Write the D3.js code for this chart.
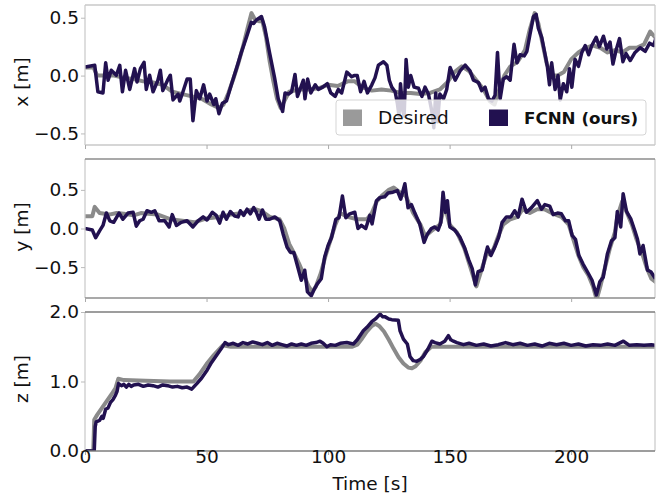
<!DOCTYPE html>
<html><head><meta charset="utf-8">
<script src="https://cdn.jsdelivr.net/npm/d3@7"></script>
<style>
body{margin:0;background:#fff;}
svg{display:block;font-family:"DejaVu Sans",sans-serif;}
</style></head>
<body><svg id="c" width="667" height="497"></svg>
<script>
// ---------------- data ----------------
const seriesNames = ["Desired", "FCNN (ours)"];
const xTicks = [0, 50, 100, 150, 200];
const posTicks = [-0.5, 0.0, 0.5];
const zTicks = [0.0, 1.0, 2.0];
const panelLabels = ["x [m]", "y [m]", "z [m]"];

const xDesired = [[0,0.07],[3.5,0.07],[5,0.0],[8,0.0],[12,0.0],[16,-0.02],[20,-0.03],[24,-0.05],[28,-0.06],[32,-0.08],[36,-0.14],[40,-0.16],[44,-0.18],[48,-0.2],[52,-0.25],[55,-0.28],[57,-0.25],[59,-0.15],[61,-0.03],[63,0.1],[65,0.25],[67,0.42],[68.5,0.54],[70,0.48],[71.5,0.47],[73,0.47],[74.5,0.33],[76,0.12],[77.5,-0.05],[79,-0.2],[80.5,-0.28],[82,-0.22],[84,-0.14],[88,-0.12],[92,-0.12],[96,-0.11],[100,-0.08],[104,-0.09],[108,-0.05],[111,-0.05],[114,-0.1],[118,-0.13],[122,-0.12],[126,-0.13],[130,-0.15],[134,-0.15],[138,-0.16],[142,-0.15],[146,-0.12],[149,-0.06],[152,0.03],[155,0.08],[158,0.04],[161,-0.04],[164,-0.12],[166.5,-0.22],[168.5,-0.25],[170.5,-0.12],[172.5,0.0],[175,0.08],[178,0.12],[181,0.22],[183,0.4],[185,0.54],[186.5,0.45],[188,0.3],[190,0.1],[192,0.0],[194.5,0.0],[197,0.03],[200,0.14],[203,0.2],[206,0.24],[209,0.26],[212,0.24],[215,0.2],[218,0.22],[221,0.2],[224,0.24],[227,0.24],[230,0.27],[232.5,0.38],[235,0.32]];

const xFcnn = [[0,0.075],[4,0.089],[5.3,-0.14],[7.4,-0.15],[8.5,0.11],[9.5,-0.04],[10.8,0.046],[12.9,0.003],[14.3,0.089],[15.4,-0.14],[16.7,0.046],[18.4,-0.12],[20.4,0.06],[21.4,-0.055],[22.8,0.06],[24.3,0.115],[25.2,-0.12],[26.6,0.003],[28,-0.14],[30,-0.04],[31,0.046],[32,-0.13],[34.2,-0.03],[35.1,0.003],[36.2,-0.21],[38.3,-0.16],[39,-0.22],[40.3,-0.14],[42,-0.03],[43.3,-0.03],[44.4,-0.39],[45.8,-0.13],[47.2,-0.2],[48.8,-0.08],[50.2,-0.22],[51.3,-0.16],[53,-0.25],[53.8,-0.2],[55.1,-0.33],[56.5,-0.24],[58.2,-0.22],[60.2,-0.08],[62.3,0.06],[64.3,0.2],[66.4,0.33],[68.4,0.46],[69.4,0.45],[70.5,0.48],[72.6,0.51],[73.9,0.42],[76,0.19],[78,-0.02],[79.5,-0.2],[81.3,-0.31],[82.3,-0.15],[83.7,-0.16],[85,-0.14],[86.4,0.01],[87.4,-0.18],[88.8,-0.1],[89.8,-0.04],[90.5,-0.2],[91.6,-0.03],[92.9,-0.15],[94.7,-0.08],[96,-0.12],[97.8,-0.1],[99.7,-0.07],[101.1,-0.15],[102.9,-0.18],[104.2,-0.12],[105.6,-0.15],[107.7,0.03],[109.7,-0.01],[110.7,0.0],[112,0.0],[113.4,-0.14],[114.8,-0.05],[116.2,-0.15],[118,-0.08],[119.3,-0.02],[120.7,0.09],[122.8,0.12],[124.2,0.09],[125.2,-0.04],[126.2,-0.1],[127.6,-0.14],[128.5,-0.24],[129.2,-0.35],[129.8,-0.07],[130.7,-0.3],[131.3,-0.35],[132.1,0.14],[133,-0.1],[134,0.0],[135.4,-0.1],[137.2,-0.11],[138.6,-0.18],[139.9,-0.1],[141.3,-0.16],[142.7,-0.31],[143.5,-0.45],[144.3,-0.15],[145,-0.4],[146,-0.16],[147.5,-0.2],[148.8,-0.12],[150.2,0.07],[152.3,-0.04],[154.3,0.04],[156.4,0.09],[158.4,0.04],[159.8,-0.04],[161.9,-0.06],[163.2,-0.13],[164.6,-0.1],[166,-0.2],[167.4,-0.22],[168.7,-0.17],[169.7,0.2],[170.8,-0.2],[172.1,-0.03],[173.5,-0.01],[174.9,-0.04],[176.5,0.27],[177.7,0.11],[179,0.18],[180.7,0.17],[181.8,0.21],[183.1,0.36],[184.5,0.51],[185.6,0.53],[186.5,0.41],[187.9,0.33],[189.3,0.18],[190.2,0.08],[191.1,-0.08],[192,0.11],[193.4,-0.12],[194.6,0.0],[195.5,-0.21],[196.8,-0.07],[198.2,-0.14],[199.3,0.06],[200.3,-0.1],[201.6,0.14],[203,0.08],[204.4,0.2],[205.8,0.26],[207.2,0.18],[208.5,0.26],[210.3,0.33],[211.6,0.25],[213.3,0.34],[214.7,0.23],[216,0.29],[217.2,0.1],[218.5,0.22],[219.9,0.32],[221.3,0.12],[222.6,0.19],[224.3,0.13],[226.3,0.2],[228.4,0.24],[230.5,0.21],[232.3,0.28],[233.9,0.26],[235,0.33]];

const yDesired = [[0,0.16],[3,0.16],[4,0.28],[6,0.2],[10,0.18],[13,0.2],[16,0.19],[20,0.17],[23,0.2],[26,0.19],[30,0.18],[35,0.12],[40,0.1],[45,0.08],[50,0.13],[55,0.15],[60,0.18],[65,0.2],[68,0.24],[70,0.25],[73,0.22],[76,0.15],[80,0.12],[82,0.0],[84,-0.2],[86,-0.32],[88,-0.45],[90,-0.6],[92,-0.75],[93.5,-0.82],[95,-0.75],[97,-0.58],[99,-0.35],[101,-0.15],[103,0.05],[105,0.2],[108,0.15],[112,0.12],[116,0.12],[118,0.2],[120,0.35],[122,0.42],[125,0.5],[127,0.53],[129,0.48],[132,0.42],[135,0.2],[138,0.05],[140,-0.1],[143,-0.02],[146,0.05],[148,0.3],[150,0.05],[153,-0.05],[156,-0.25],[158,-0.45],[160,-0.65],[161,-0.75],[163,-0.55],[165,-0.35],[168,-0.27],[170,-0.1],[172,0.05],[175,0.12],[178,0.15],[180,0.25],[183,0.2],[186,0.25],[189,0.25],[192,0.2],[196,0.15],[199,0.05],[201,-0.15],[203,-0.35],[205,-0.5],[207,-0.6],[209,-0.75],[210.5,-0.92],[212,-0.75],[214,-0.5],[216,-0.25],[218,-0.05],[219,0.15],[221,0.35],[223,0.2],[225,0.05],[227,-0.15],[229,-0.3],[231,-0.5],[233,-0.65],[235,-0.7]];

const yFcnn = [[0,0.0],[3,-0.02],[4.4,-0.12],[6,-0.03],[7.4,0.04],[8.8,0.2],[10.2,0.1],[11.8,0.08],[14,0.2],[15.6,0.12],[17.7,0.2],[19.8,0.21],[21.1,0.03],[22.5,0.1],[23.9,0.12],[25.5,0.23],[27.3,0.21],[28.7,0.23],[30.5,0.1],[32.8,0.1],[34.6,0.02],[35.9,0.18],[37.6,0.04],[39.6,0.08],[42,0.1],[44.4,0.02],[46.5,0.1],[48.6,0.15],[50.2,0.11],[52.4,0.21],[54,0.17],[55.4,0.07],[56.8,0.21],[58.2,0.12],[59.8,0.22],[61.6,0.16],[63,0.15],[63.9,0.23],[65.3,0.17],[66.7,0.25],[68,0.19],[69.4,0.27],[70.5,0.21],[71.6,0.12],[73,0.24],[74.4,0.12],[76,0.12],[78.1,0.15],[80.1,0.1],[81.5,-0.07],[83.1,-0.24],[84.5,-0.31],[85.9,-0.31],[87.2,-0.46],[89,-0.67],[90.4,-0.54],[91.5,-0.82],[93.1,-0.87],[94.1,-0.8],[95.5,-0.72],[97.2,-0.65],[98.6,-0.37],[100,-0.22],[101.4,-0.12],[103.2,0.12],[104.5,0.14],[105.9,0.42],[107.3,0.14],[108.9,0.19],[111,0.21],[112.3,0.0],[113.7,0.04],[115.5,0.0],[117.2,0.17],[118.1,0.06],[119.9,0.36],[121.3,0.4],[123.3,0.41],[124.7,0.46],[126.7,0.47],[128.5,0.49],[129.9,0.38],[131.6,0.58],[132.9,0.27],[134.3,0.31],[135.7,0.2],[137.7,0.06],[139.5,-0.18],[140.9,-0.07],[142.5,0.0],[143.9,0.02],[145.3,-0.02],[146.4,0.08],[147.3,0.47],[148.3,0.21],[149.1,0.36],[150.1,0.02],[152.1,-0.02],[154.2,-0.11],[156.3,-0.26],[157.9,-0.41],[159.3,-0.52],[160.6,-0.73],[161.7,-0.56],[163.4,-0.54],[164.7,-0.35],[165.6,-0.24],[167,-0.35],[168.6,-0.24],[170.2,-0.11],[171.6,0.08],[173.4,0.15],[175.2,0.15],[176.8,0.23],[178.2,0.15],[179.8,0.38],[181.6,0.21],[183.7,0.27],[186.1,0.36],[187.8,0.25],[189.2,0.31],[191.2,0.29],[192.6,0.18],[194.4,0.2],[196,0.19],[197.7,0.1],[199,0.1],[200.4,-0.09],[201.8,-0.14],[203.2,-0.35],[204.9,-0.46],[206.7,-0.56],[208.6,-0.67],[210.4,-0.86],[211.8,-0.69],[213.2,-0.63],[214.9,-0.33],[216.6,-0.16],[218,-0.12],[219,0.22],[220.4,0.02],[221.4,0.45],[222.8,0.22],[224.6,0.12],[226.2,-0.03],[227.3,-0.14],[228.3,-0.33],[229.6,-0.22],[231.4,-0.54],[232.8,-0.56],[234.7,-0.65]];

const zDesired = [[0,0],[3.4,0],[3.8,0.45],[5,0.52],[7,0.62],[9,0.72],[11,0.82],[12.5,0.9],[13.7,1.04],[16,1.02],[25,1.01],[35,1.0],[44.6,1.0],[47,1.1],[50,1.25],[53,1.38],[56.7,1.52],[60,1.5],[80,1.5],[100,1.5],[110,1.5],[112,1.53],[114,1.62],[116,1.72],[118,1.8],[119.5,1.83],[121,1.8],[123,1.72],[125,1.6],[127,1.47],[129,1.35],[131,1.26],[133,1.2],[134.5,1.19],[136,1.22],[138,1.3],[140,1.42],[142.5,1.5],[150,1.5],[235,1.5]];

const zFcnn = [[0,0],[3.8,0],[4.2,0.35],[4.6,0.42],[6,0.44],[7,0.5],[7.5,0.47],[8.5,0.6],[9.5,0.62],[10.5,0.7],[11.5,0.74],[12.5,0.8],[13.2,0.86],[13.8,0.97],[15,0.94],[16,0.96],[17,0.92],[18,0.96],[19,0.93],[20,0.95],[22,0.96],[24,0.93],[26,0.95],[28,0.94],[30,0.92],[32,0.95],[34,0.94],[36,0.92],[38,0.93],[40,0.91],[42,0.92],[43.9,0.89],[46,0.97],[48,1.05],[50,1.15],[52,1.27],[54,1.37],[56,1.47],[57.6,1.56],[59,1.53],[61,1.55],[63,1.52],[65,1.56],[67,1.54],[69,1.57],[71,1.55],[73,1.53],[75,1.56],[77,1.52],[79,1.55],[81,1.53],[83,1.51],[85,1.54],[87,1.52],[89,1.54],[91,1.52],[93,1.55],[95,1.56],[96.7,1.58],[98,1.55],[99.5,1.5],[101,1.53],[103,1.52],[105,1.55],[107.7,1.56],[110.4,1.54],[112,1.6],[114.5,1.73],[116,1.78],[118,1.86],[119.5,1.9],[121.4,1.97],[122.5,1.93],[123.5,1.93],[125,1.9],[126.2,1.89],[128.9,1.88],[129.6,1.73],[131,1.61],[132.6,1.54],[133.7,1.36],[135,1.3],[136.5,1.29],[138,1.32],[139.2,1.36],[141,1.46],[142.7,1.58],[144,1.56],[146,1.54],[148,1.58],[149.5,1.66],[150.5,1.6],[151.6,1.58],[153,1.56],[155.7,1.53],[158,1.55],[161,1.52],[164,1.54],[167,1.51],[170,1.53],[173,1.56],[176,1.53],[179,1.55],[182,1.52],[185,1.54],[188,1.51],[191,1.55],[194,1.53],[197,1.55],[200,1.52],[203,1.54],[206,1.51],[209,1.53],[212,1.52],[215,1.54],[218,1.52],[221.5,1.58],[224,1.52],[227,1.53],[230,1.52],[233,1.53],[235,1.52]];

// ---------------- layout ----------------
const left = 85, right = 655;
const panels = [
  {top: 5,   bottom: 145, domain: [-0.6, 0.61], ticks: posTicks, label: panelLabels[0], labelY: 82, data: [xDesired, xFcnn], hColor: "#c8c8c8"},
  {top: 159, bottom: 298, domain: [-0.9, 0.9], ticks: posTicks, label: panelLabels[1], labelY: 227, data: [yDesired, yFcnn], hColor: "#8c8c8c"},
  {top: 312, bottom: 451, domain: [0, 2.0], ticks: zTicks, label: panelLabels[2], labelY: 379, data: [zDesired, zFcnn], hColor: "#7c7c7c"}
];
const colors = ["#8a8a8a", "#221150"];
const widths = [4.0, 3.5];
const fontSize = 18.5;

const svg = d3.select("#c");
const x = d3.scaleLinear().domain([0, 234.5]).range([left, right]);
const fmt = d3.format(".1f");

panels.forEach((p, i) => {
  const y = d3.scaleLinear().domain(p.domain).range([p.bottom, p.top]);
  const g = svg.append("g");
  const cid = "clip" + i;
  svg.append("clipPath").attr("id", cid).append("rect")
    .attr("x", left).attr("y", p.top).attr("width", right - left).attr("height", p.bottom - p.top);

  const line = d3.line().x(d => x(d[0])).y(d => y(d[1])).curve(d3.curveLinear);
  p.data.forEach((ser, k) => {
    g.append("path").attr("d", line(ser)).attr("fill", "none")
      .attr("stroke", colors[k]).attr("stroke-width", widths[k])
      .attr("stroke-linejoin", "round").attr("stroke-linecap", "butt")
      .attr("clip-path", `url(#${cid})`);
  });

  // frame: vertical spines light, horizontal spines per panel
  [left, right].forEach(xx => g.append("line").attr("x1", xx).attr("x2", xx)
    .attr("y1", p.top).attr("y2", p.bottom).attr("stroke", "#cccccc").attr("stroke-width", 1.3));
  [p.top, p.bottom].forEach(yy => g.append("line").attr("x1", left).attr("x2", right)
    .attr("y1", yy).attr("y2", yy).attr("stroke", p.hColor).attr("stroke-width", 1.3));

  // y axis
  const ya = d3.axisLeft(y).tickValues(p.ticks).tickFormat(fmt).tickSize(4).tickPadding(2);
  const yg = svg.append("g").attr("transform", `translate(${left},0)`).call(ya);
  yg.select(".domain").remove();
  yg.selectAll(".tick line").attr("stroke", "#bbbbbb");
  yg.selectAll(".tick text").attr("font-size", fontSize).attr("fill", "#111").attr("font-family", "DejaVu Sans");

  // x axis
  const xa = d3.axisBottom(x).tickValues(xTicks).tickSize(4).tickPadding(0)
    .tickFormat(i === 2 ? d3.format("d") : "");
  const xg = svg.append("g").attr("transform", `translate(0,${p.bottom})`).call(xa);
  xg.select(".domain").remove();
  xg.selectAll(".tick line").attr("stroke", "#aaaaaa");
  xg.selectAll(".tick text").attr("font-size", fontSize).attr("fill", "#111")
    .attr("font-family", "DejaVu Sans").attr("dy", "0.62em").attr("y", 1);

  svg.append("text").attr("transform", `translate(28,${p.labelY}) rotate(-90)`)
    .attr("text-anchor", "middle").attr("font-size", fontSize).attr("fill", "#111").text(p.label);
});

svg.append("text").attr("x", (left + right) / 2).attr("y", 490).attr("text-anchor", "middle")
  .attr("font-size", fontSize).attr("fill", "#111").text("Time [s]");

// legend
const lg = svg.append("g");
lg.append("rect").attr("x", 336).attr("y", 100).attr("width", 310).attr("height", 35).attr("rx", 3)
  .attr("fill", "#fff").attr("fill-opacity", 0.8).attr("stroke", "#d5d5d5");
const legX = [343, 489], textX = [378, 524];
seriesNames.forEach((n, k) => {
  lg.append("rect").attr("x", legX[k]).attr("y", 109.5).attr("width", 19).attr("height", 16.5)
    .attr("fill", k === 0 ? "#9a9a9a" : colors[1]);
  lg.append("text").attr("x", textX[k]).attr("y", 124).attr("font-size", k === 0 ? fontSize : 16.7)
    .attr("font-weight", k === 0 ? "normal" : "bold").attr("fill", "#111").text(n);
});
</script></body></html>
